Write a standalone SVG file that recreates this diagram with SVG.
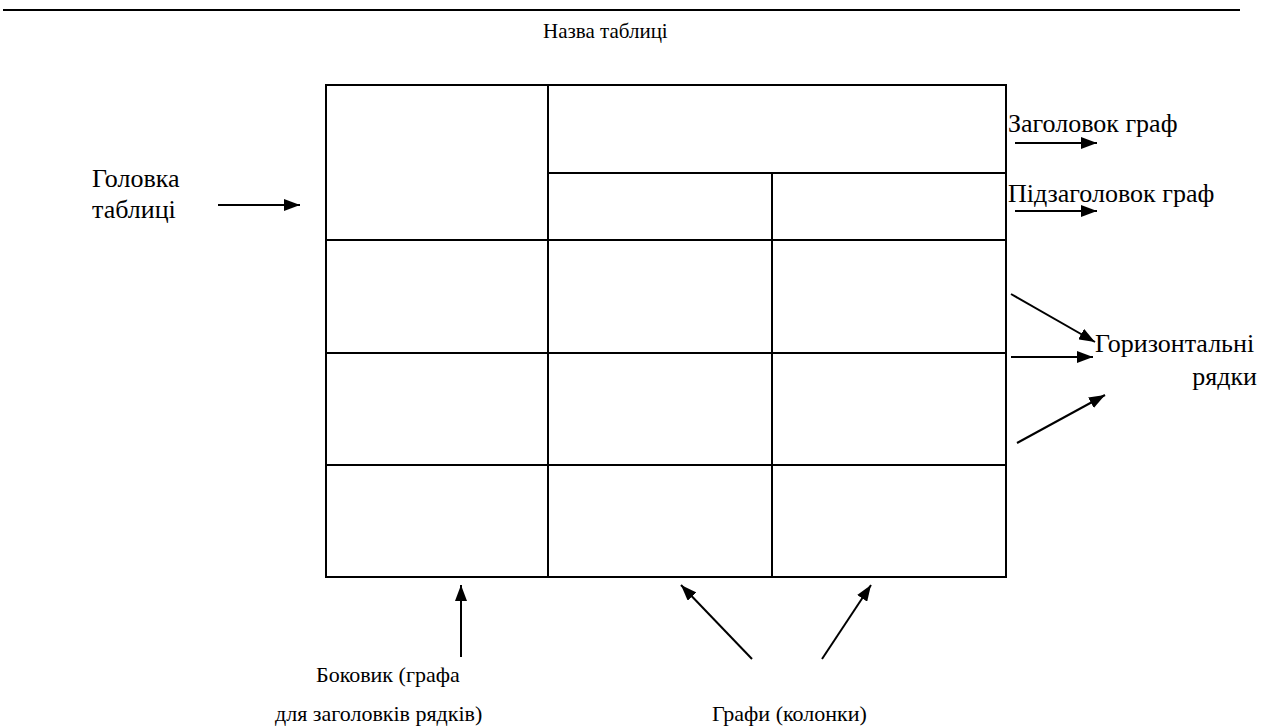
<svg xmlns="http://www.w3.org/2000/svg" width="1261" height="727" viewBox="0 0 1261 727">
<defs>
<marker id="ah" viewBox="0 0 16 12" refX="16" refY="6" markerWidth="16" markerHeight="12" orient="auto" markerUnits="userSpaceOnUse">
<path d="M0,0 L16,6 L0,12 z" fill="#000"/>
</marker>
</defs>
<line x1="3" y1="10" x2="1240" y2="10" stroke="#000" stroke-width="2"/>
<text id="title" font-family="Liberation Serif" font-size="21" x="543" y="38">Назва таблиці</text>
<g id="labels" fill="#000">
<text font-family="Liberation Serif" font-size="26" x="92" y="187">Головка</text>
<text font-family="Liberation Serif" font-size="26" x="92" y="218">таблиці</text>
<text font-family="Liberation Serif" font-size="26" x="1008" y="132">Заголовок граф</text>
<text font-family="Liberation Serif" font-size="26" x="1008" y="202">Підзаголовок граф</text>
<text font-family="Liberation Serif" font-size="26" x="1095" y="352">Горизонтальні</text>
<text font-family="Liberation Serif" font-size="26" x="1257" y="385" text-anchor="end">рядки</text>
<text font-family="Liberation Serif" font-size="22" x="316" y="682">Боковик (графа</text>
<text font-family="Liberation Serif" font-size="22" x="275" y="721">для заголовків рядків)</text>
<text font-family="Liberation Serif" font-size="22" x="712" y="721">Графи (колонки)</text>
</g>
<g id="table" fill="none" stroke="#000" stroke-width="2">
<rect x="326" y="85" width="680" height="492"/>
<line x1="548" y1="85" x2="548" y2="577"/>
<line x1="772" y1="173" x2="772" y2="577"/>
<line x1="548" y1="173" x2="1006" y2="173"/>
<line x1="326" y1="240" x2="1006" y2="240"/>
<line x1="326" y1="353" x2="1006" y2="353"/>
<line x1="326" y1="465" x2="1006" y2="465"/>
</g>
<g id="connectors" fill="none" stroke="#000" stroke-width="2" marker-end="url(#ah)">
<line x1="218" y1="205" x2="300" y2="205"/>
<line x1="1015" y1="143" x2="1097" y2="143"/>
<line x1="1015" y1="211" x2="1097" y2="211"/>
<line x1="1011" y1="294" x2="1095" y2="342"/>
<line x1="1011" y1="357" x2="1093" y2="357"/>
<line x1="1017" y1="443" x2="1105" y2="395"/>
<line x1="461" y1="657" x2="461" y2="585"/>
<line x1="752" y1="659" x2="681" y2="585"/>
<line x1="822" y1="659" x2="871" y2="585"/>
</g>
</svg>
